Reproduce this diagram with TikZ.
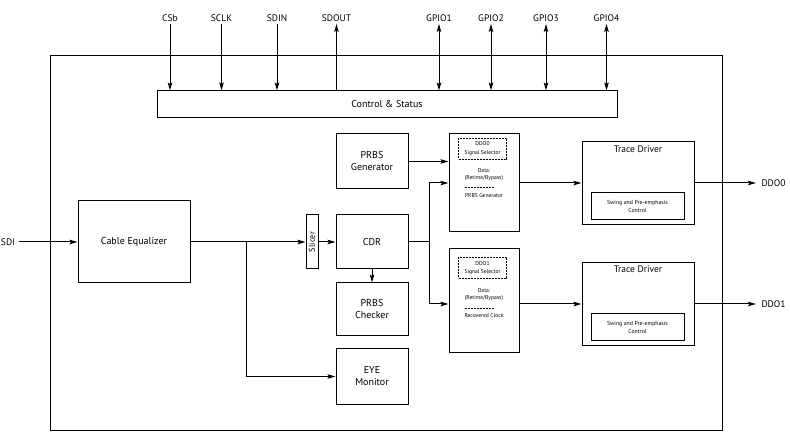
\documentclass[tikz,border=0pt]{standalone}
\usepackage{fontspec}
\setmainfont{PT Sans}
\usetikzlibrary{arrows.meta,calc}
\begin{document}
\begin{tikzpicture}[x=1pt,y=-1pt, line width=1pt,
 blk/.style={draw, line width=1pt, inner sep=0pt, align=center, font=\fontsize{10}{12}\selectfont},
 arr/.style={-{Stealth[length=8pt,width=4.5pt,inset=1.5pt]}},
 darr/.style={{Stealth[length=8pt,width=4.5pt,inset=1.5pt]}-{Stealth[length=8pt,width=4.5pt,inset=1.5pt]}},
 lbl/.style={font=\fontsize{9.5}{11}\selectfont, inner sep=2pt},
 tinytxt/.style={font=\fontsize{5.6}{6.8}\selectfont, inner sep=0pt, align=center},
 selbox/.style={draw, dashed, dash pattern=on 2pt off 1pt, line width=0.7pt, minimum width=48pt, minimum height=21pt, inner sep=0pt, align=center, font=\fontsize{5.6}{8.5}\selectfont},
 sep/.style={dashed, dash pattern=on 2pt off 1pt, line width=0.7pt},
 inner/.style={draw, line width=1pt, minimum width=93pt, minimum height=27pt, inner sep=0pt, align=center, font=\fontsize{5.8}{7.5}\selectfont},
 ttl/.style={font=\fontsize{9.5}{11}\selectfont, inner sep=0pt}]
\useasboundingbox (0,0) rectangle (790,438);

% frame
\node[draw, minimum width=672pt, minimum height=374pt, inner sep=0pt] (frame) at (386,243) {};

% control & status
\node[blk, minimum width=460pt, minimum height=27pt] (ctrl) at (387,104.5) {Control \& Status};

% top signals
\node[lbl] (csb) at (170,18) {CSb};
\node[lbl] (sclk) at (221.5,18) {SCLK};
\node[lbl] (sdin) at (277,18) {SDIN};
\node[lbl] (sdout) at (336.5,18) {SDOUT};
\node[lbl] (gpio1) at (439,18) {GPIO1};
\node[lbl] (gpio2) at (491,18) {GPIO2};
\node[lbl] (gpio3) at (546,18) {GPIO3};
\node[lbl] (gpio4) at (606.5,18) {GPIO4};
\draw[arr] (csb.south) -- (csb.south |- ctrl.north);
\draw[arr] (sclk.south) -- (sclk.south |- ctrl.north);
\draw[arr] (sdin.south) -- (sdin.south |- ctrl.north);
\draw[arr] (sdout.south |- ctrl.north) -- (sdout.south);
\draw[darr] (gpio1.south) -- (gpio1.south |- ctrl.north);
\draw[darr] (gpio2.south) -- (gpio2.south |- ctrl.north);
\draw[darr] (gpio3.south) -- (gpio3.south |- ctrl.north);
\draw[darr] (gpio4.south) -- (gpio4.south |- ctrl.north);

% main chain
\node[lbl, anchor=west, inner sep=1pt] (sdi) at (-0.5,242) {SDI};
\node[blk, minimum width=112pt, minimum height=82pt] (ceq) at (134,242) {Cable Equalizer};
\node[blk, rotate=90, minimum width=54pt, minimum height=12pt, font=\fontsize{8.5}{9}\selectfont] (slicer) at (312,242) {Slicer};
\node[blk, minimum width=72pt, minimum height=54pt] (cdr) at (372,242) {CDR};
\node[blk, minimum width=72pt, minimum height=55pt] (gen) at (372,161.5) {PRBS\\Generator};
\node[blk, minimum width=72pt, minimum height=53pt] (chk) at (372,309.5) {PRBS\\Checker};
\node[blk, minimum width=72pt, minimum height=55pt] (eye) at (372,376.5) {EYE\\Monitor};

\draw[arr] ([xshift=2pt]sdi.east) -- (sdi.east -| ceq.west);
\draw[arr] (ceq.east) -- (slicer.north);
\coordinate (br) at (246,242);
\draw[arr] (br) |- (eye.west);
\draw[arr] (slicer.south) -- (cdr.west);
\draw[arr] (cdr.south) -- (chk.north);

% mux blocks
\node[blk, minimum width=70pt, minimum height=98pt] (mux1) at (484,183) {};
\node[selbox] (sel1) at (482.5,148.5) {DDO0\\Signal Selector};
\node[tinytxt] (dat1) at (484,175) {Data:\\(Retime/Bypass)};
\coordinate (s1a) at (465,187);
\coordinate (s1b) at (494,187);
\draw[sep] (s1a) -- (s1b);
\node[tinytxt] (pg1) at (484,196) {PRBS Generator};

\node[blk, minimum width=70pt, minimum height=104pt] (mux2) at (484,301) {};
\node[selbox] (sel2) at (482.5,268) {DDO1\\Signal Selector};
\node[tinytxt] (dat2) at (484,295) {Data:\\(Retime/Bypass)};
\coordinate (s2a) at (465,308);
\coordinate (s2b) at (494,308);
\draw[sep] (s2a) -- (s2b);
\node[tinytxt] (rc2) at (484,316) {Recovered Clock};

% CDR fan-out
\coordinate (jn) at (429,242);
\coordinate (jt) at (429,183);
\coordinate (jb) at (429,304);
\draw (cdr.east) -- (jn);
\draw (jt) -- (jb);
\draw[arr] (jt) -- (jt -| mux1.west);
\draw[arr] (jb) -- (jb -| mux2.west);
\draw[arr] (gen.east) -- (gen.east -| mux1.west);

% trace drivers
\node[blk, minimum width=112pt, minimum height=83pt] (td1) at (638,183.5) {};
\node[ttl] (tt1) at (638,149) {Trace Driver};
\node[inner] (sw1) at (637.5,206.5) {Swing and Pre-emphasis\\Control};
\node[blk, minimum width=112pt, minimum height=83pt] (td2) at (638,304.5) {};
\node[ttl] (tt2) at (638,269.5) {Trace Driver};
\node[inner] (sw2) at (637.5,327.5) {Swing and Pre-emphasis\\Control};

\draw[arr] (mux1.east) -- (mux1.east -| td1.west);
\draw[arr] (jb -| mux2.east) -- (jb -| td2.west);

% outputs
\coordinate (do0) at (756,183);
\coordinate (do1) at (756,304);
\draw[arr] (mux1.east -| td1.east) -- (do0);
\draw[arr] (jb -| td2.east) -- (do1);
\node[lbl, anchor=west] (ddo0) at (759,183) {DDO0};
\node[lbl, anchor=west] (ddo1) at (759,304) {DDO1};
\end{tikzpicture}
\end{document}
